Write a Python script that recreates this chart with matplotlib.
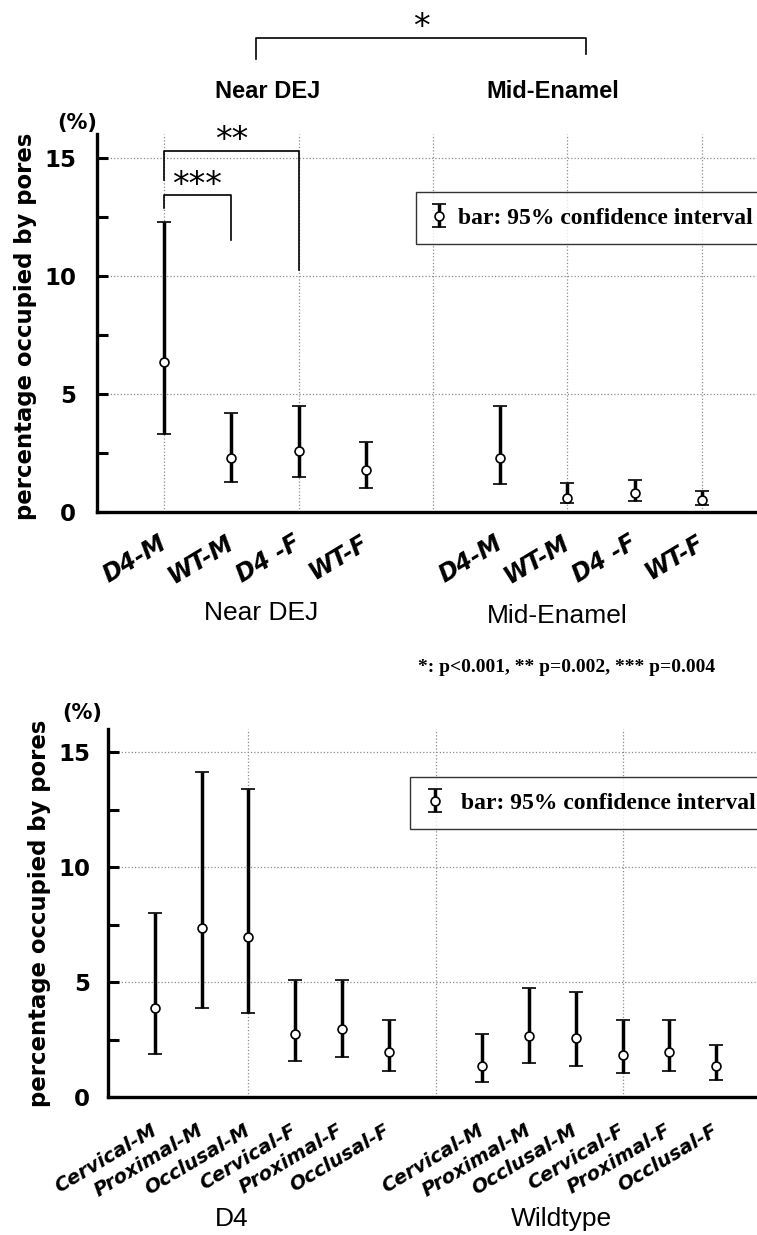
import matplotlib
matplotlib.use('Agg')
import matplotlib.pyplot as plt
import matplotlib.transforms as mtransforms
from matplotlib import font_manager

# --- top panel: enamel region x sex/genotype ---
top_x = [0, 1, 2, 3, 5, 6, 7, 8]
top_labels = ['D4-M', 'WT-M', 'D4 -F', 'WT-F', 'D4-M', 'WT-M', 'D4 -F', 'WT-F']
top_mean = [6.37, 2.27, 2.58, 1.78, 2.30, 0.58, 0.82, 0.51]
top_low = [3.29, 1.29, 1.50, 1.00, 1.17, 0.40, 0.48, 0.30]
top_high = [12.3, 4.18, 4.49, 2.98, 4.49, 1.21, 1.36, 0.90]
top_groups = ['Near DEJ', 'Mid-Enamel']

# --- bottom panel: site x sex, D4 vs wildtype ---
bot_x = [0, 1, 2, 3, 4, 5, 7, 8, 9, 10, 11, 12]
bot_labels = ['Cervical-M', 'Proximal-M', 'Occlusal-M',
              'Cervical-F', 'Proximal-F', 'Occlusal-F'] * 2
bot_mean = [3.86, 7.36, 6.97, 2.74, 2.96, 1.97,
            1.36, 2.67, 2.57, 1.84, 1.94, 1.36]
bot_low = [1.87, 3.86, 3.65, 1.55, 1.75, 1.14,
           0.64, 1.46, 1.36, 1.04, 1.14, 0.75]
bot_high = [8.0, 14.12, 13.39, 5.09, 5.09, 3.35,
            2.74, 4.74, 4.55, 3.35, 3.35, 2.26]
bot_groups = ['D4', 'Wildtype']

ylabel = 'percentage occupied by pores'
legend_text = 'bar: 95% confidence interval'
pvalue_text = '*: p<0.001, ** p=0.002, *** p=0.004'

plt.rcParams['font.family'] = 'DejaVu Sans'
names = {f.name for f in font_manager.fontManager.ttflist}
narrow = 'Liberation Sans Narrow' if 'Liberation Sans Narrow' in names else 'Liberation Sans'
serif = 'Liberation Serif'

W, H = 757, 1235
fig = plt.figure(figsize=(W / 100, H / 100), dpi=100)


def fx(x):
    return x / W


def fy(y):
    return 1 - y / H


def draw_panel(rect, xs, labels, mean, low, high, grid_x, xlim,
               label_size, label_pad, label_shift, ytick_pad):
    ax = fig.add_axes(rect)
    ax.set_axisbelow(True)
    ax.xaxis.remove_overlapping_locs = False
    lo = [m - l for m, l in zip(mean, low)]
    hi = [h - m for m, h in zip(mean, high)]
    cont = ax.errorbar(xs, mean, yerr=[lo, hi], fmt='o', color='black',
                       ecolor='black', elinewidth=2.5, capsize=4.8, capthick=2.6,
                       ms=6.4, mfc='white', mec='black', mew=1.2, zorder=3)
    ax.set_xlim(*xlim)
    ax.set_ylim(0, 16)
    ax.set_yticks([0, 5, 10, 15])
    ax.set_yticks([2.5, 7.5, 12.5], minor=True)
    ax.set_xticks(xs)
    ax.set_xticklabels(labels, rotation=31, ha='right', va='center',
                       rotation_mode='anchor', fontsize=label_size,
                       fontweight='bold', fontstyle='italic')
    shift = mtransforms.ScaledTranslation(label_shift / 100, 0, fig.dpi_scale_trans)
    for lab in ax.get_xticklabels():
        lab.set_transform(lab.get_transform() + shift)
    ax.set_xticks(grid_x, minor=True)
    for lab in ax.get_yticklabels():
        lab.set_fontweight('bold')
    ax.tick_params(axis='y', which='both', direction='in', length=8, width=2.2,
                   labelsize=16.5, pad=ytick_pad)
    ax.tick_params(axis='x', which='both', length=0, pad=label_pad)
    ax.grid(axis='y', which='major', linestyle=':', color='#8c8c8c', lw=0.9)
    ax.grid(axis='x', which='minor', linestyle=':', color='#8c8c8c', lw=0.9)
    ax.grid(axis='x', which='major', visible=False)
    for s in ['top', 'right']:
        ax.spines[s].set_visible(False)
    for s in ['left', 'bottom']:
        ax.spines[s].set_linewidth(2.4)
    return ax, cont


# top panel
ax1, c1 = draw_panel([fx(97), fy(512), fx(660), 377.6 / H],
                     top_x, top_labels, top_mean, top_low, top_high,
                     [0, 2, 4, 6, 8], (-1, 8.82), 17, 21, 7, 15)
# bottom panel
ax2, c2 = draw_panel([fx(108), fy(1097), fx(649), 368 / H],
                     bot_x, bot_labels, bot_mean, bot_low, bot_high,
                     [2, 6, 10], (-1, 12.87), 14, 23, 2, 13)

# legends, box runs past the right edge of the figure
leg_kw = dict(loc='upper left', mode='expand', frameon=True, fancybox=False,
              borderpad=0.65, borderaxespad=0,
              prop={'family': serif, 'weight': 'bold', 'size': 17})
leg1 = ax1.legend([c1], [legend_text], bbox_to_anchor=(0.484, 0.6, 0.6, 0.2475),
                  handlelength=0.6, handletextpad=0.5, **leg_kw)
leg2 = ax2.legend([c2], [legend_text], bbox_to_anchor=(0.465, 0.6, 0.6, 0.2696),
                  handlelength=0.8, handletextpad=0.7, **leg_kw)
for leg in (leg1, leg2):
    leg.get_frame().set_edgecolor('black')
    leg.get_frame().set_linewidth(1.0)

# significance brackets in top panel
br = dict(color='black', lw=1.2, clip_on=False)
ax1.plot([0, 0, 1, 1], [12.88, 13.43, 13.43, 11.53], **br)
ax1.plot([0, 0, 2, 2], [14.07, 15.3, 15.3, 10.25], **br)
ax1.plot([1.37, 1.37, 6.28, 6.28], [19.2, 20.1, 20.1, 19.4], **br)
star = dict(ha='center', va='center', fontsize=24, clip_on=False)
ax1.text(0.49, 13.85, '***', **star)
ax1.text(1.01, 15.75, '**', **star)
ax1.text(3.83, 20.55, '*', **star)

# group titles above the top panel
fig.text(fx(268), fy(92), top_groups[0], ha='center', va='center',
         family=narrow, fontweight='bold', fontsize=17)
fig.text(fx(553), fy(92), top_groups[1], ha='center', va='center',
         family=narrow, fontweight='bold', fontsize=17)

# group labels under axes
fig.text(fx(261), fy(613), top_groups[0], ha='center', va='center',
         family=narrow, fontsize=19)
fig.text(fx(557), fy(616), top_groups[1], ha='center', va='center',
         family=narrow, fontsize=19)
fig.text(fx(232), fy(1219), bot_groups[0], ha='center', va='center',
         family=narrow, fontsize=19)
fig.text(fx(561), fy(1219), bot_groups[1], ha='center', va='center',
         family=narrow, fontsize=19)

fig.text(fx(418), fy(668), pvalue_text, ha='left', va='center',
         family=serif, fontweight='bold', fontsize=14)

# units and y labels
fig.text(fx(77), fy(123), '(%)', ha='center', va='center', fontweight='bold', fontsize=15)
fig.text(fx(82), fy(713), '(%)', ha='center', va='center', fontweight='bold', fontsize=15)
fig.text(fx(26), fy(326), ylabel, rotation=90, ha='center', va='center',
         fontweight='bold', fontsize=16.4)
fig.text(fx(40), fy(913), ylabel, rotation=90, ha='center', va='center',
         fontweight='bold', fontsize=16.4)

fig.savefig('out.png', dpi=100, facecolor='white')
